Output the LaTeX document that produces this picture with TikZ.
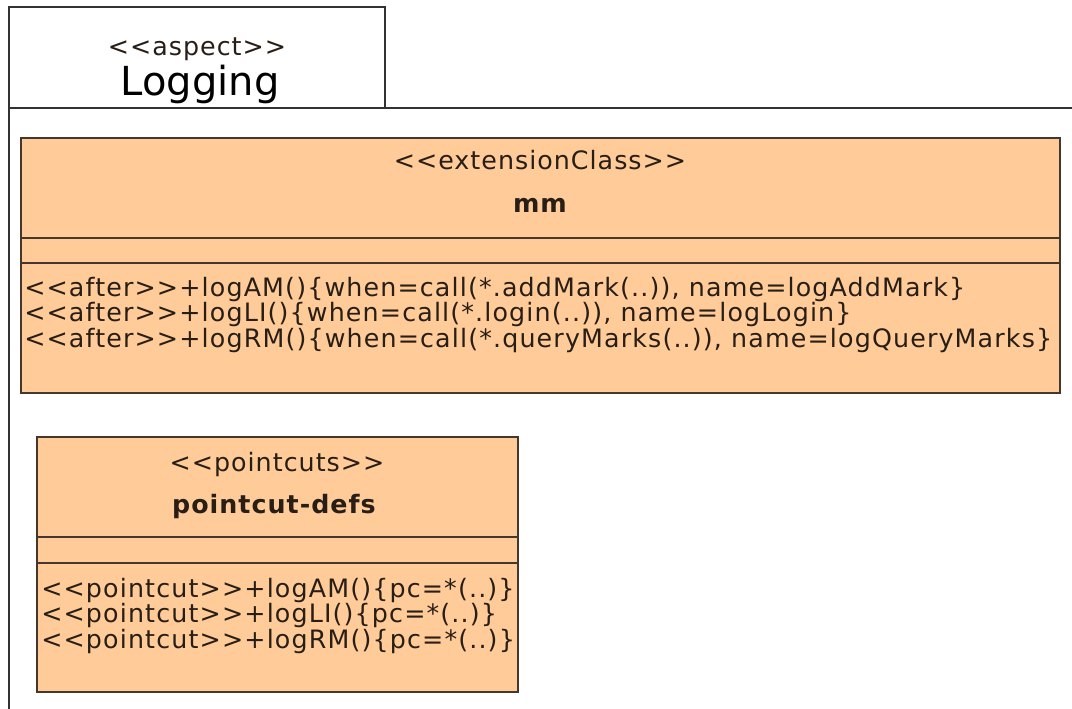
\documentclass[tikz,border=0pt]{standalone}
\usepackage{fontspec}
\setmainfont[Ligatures=TeXOff]{DejaVu Sans}
\definecolor{classfill}{RGB}{255,204,153}
\definecolor{classline}{RGB}{70,55,45}
\definecolor{txt}{RGB}{40,30,22}
\definecolor{framecol}{RGB}{50,50,50}
\begin{document}
\begin{tikzpicture}[x=0.75pt,y=-0.75pt,
  classbox/.style={draw=classline, fill=classfill, line width=1.1pt, inner sep=0pt},
  divider/.style={draw=classline, line width=1.1pt},
  framelines/.style={draw=framecol, line width=1.1pt},
  stereo/.style={font=\fontsize{19}{23}\selectfont\addfontfeature{LetterSpace=4}, text=txt, inner sep=0pt, anchor=base},
  cname/.style={font=\fontsize{19}{23}\selectfont\bfseries\addfontfeature{LetterSpace=4}, text=txt, inner sep=0pt, anchor=base},
  pkgname/.style={font=\fontsize{30}{36}\selectfont, text=black, inner sep=0pt, anchor=base},
  op/.style={font=\fontsize{19}{23}\selectfont\addfontfeature{LetterSpace=4.5}, text=txt, inner sep=0pt, anchor=base west}]
\useasboundingbox (0,0) rectangle (1072,709);
\fill[white] (0,0) rectangle (1072,709);
% package frame
\coordinate (fbl) at (9,709);
\coordinate (ftl) at (9,7);
\coordinate (ftr) at (385,7);
\coordinate (ftb) at (385,108);
\coordinate (fl) at (9,108);
\coordinate (fr) at (1072,108);
\draw[framelines] (fbl) -- (ftl) -- (ftr) -- (ftb);
\draw[framelines] (fl) -- (fr);
\node[stereo] (aspst) at (197,56) {<<aspect>>};
\node[pkgname] (aspname) at (200,96) {Logging};
% class mm
\node[classbox, minimum width=779.25pt, minimum height=191.25pt] (mm) at (540.5,265.5) {};
\draw[divider] (mm.west |- 0,238) -- (mm.east |- 0,238);
\draw[divider] (mm.west |- 0,263) -- (mm.east |- 0,263);
\node[stereo] (mmst) at (540,170) {<<extensionClass>>};
\node[cname] (mmname) at (540,213) {mm};
\node[op] (mmop1) at (24,297) {<<after>>+logAM()\{when=call(*.addMark(..)), name=logAddMark\}};
\node[op] (mmop2) at (24,322) {<<after>>+logLI()\{when=call(*.login(..)), name=logLogin\}};
\node[op] (mmop3) at (24,348) {<<after>>+logRM()\{when=call(*.queryMarks(..)), name=logQueryMarks\}};
% pointcuts
\node[classbox, minimum width=360.75pt, minimum height=191.25pt] (pc) at (277.5,564.5) {};
\draw[divider] (pc.west |- 0,537) -- (pc.east |- 0,537);
\draw[divider] (pc.west |- 0,563) -- (pc.east |- 0,563);
\node[stereo] (pcst) at (277,471) {<<pointcuts>>};
\node[cname] (pcname) at (274,513) {pointcut-defs};
\node[op] (pcop1) at (41,597) {<<pointcut>>+logAM()\{pc=*(..)\}};
\node[op] (pcop2) at (41,622) {<<pointcut>>+logLI()\{pc=*(..)\}};
\node[op] (pcop3) at (41,648) {<<pointcut>>+logRM()\{pc=*(..)\}};
\end{tikzpicture}
\end{document}
